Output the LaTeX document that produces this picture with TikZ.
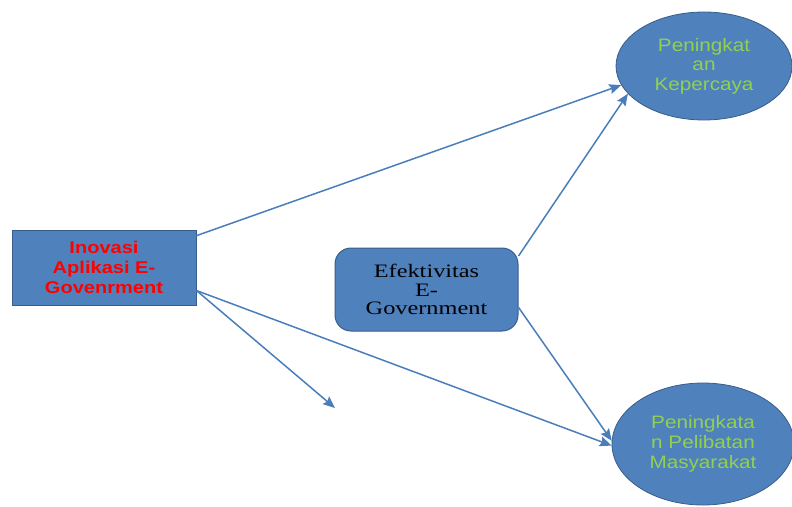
\documentclass[tikz,border=0pt]{standalone}
\usepackage{fontspec}
\setmainfont{Liberation Serif}
\newfontfamily\arialw[FakeStretch=1.15]{Liberation Sans}
\newfontfamily\arialb[FakeStretch=1.18]{Liberation Sans}
\newfontfamily\timesw[FakeStretch=1.28]{Liberation Serif}
\usetikzlibrary{shapes.geometric,arrows.meta}
\definecolor{fillblue}{HTML}{4F81BD}
\definecolor{edgeblue}{HTML}{385D8A}
\definecolor{linkblue}{HTML}{4A7EBB}
\definecolor{leafgreen}{HTML}{92D050}

\begin{document}
\begin{tikzpicture}[
x=1pt, y=-1pt,
box/.style={
	rectangle, draw=edgeblue, fill=fillblue, line width=1pt,
	minimum width=184pt, minimum height=75pt, inner sep=0pt,
	align=center, text=red, font=\arialb\bfseries\fontsize{17}{20}\selectfont
},
rbox/.style={
	rectangle, rounded corners=16pt, draw=edgeblue, fill=fillblue, line width=1pt,
	minimum width=183pt, minimum height=83pt, inner sep=0pt,
	align=center, text=black, font=\timesw\fontsize{19}{18.5}\selectfont
},
oval/.style={
	ellipse, draw=edgeblue, fill=fillblue, line width=0.8pt, inner sep=0pt,
	align=center, text=leafgreen
},
link/.style={linkblue, line width=1.5pt, -{Stealth[length=12pt,width=10pt,inset=2pt]}}
]
\useasboundingbox (0,0) rectangle (792,506);
\clip (0,0) rectangle (792,506);
\node[box] (inov) at (104,267.5) {Inovasi\\Aplikasi E-\\Govenrment};
\node[rbox] (efek) at (426.5,289.5) {Efektivitas\\E-\\Government};
\node[oval, minimum width=176pt, minimum height=108pt,
	font=\arialw\fontsize{18}{19.5}\selectfont] (kep) at (704,66) {Peningkat\\an\\Kepercaya};
\node[oval, minimum width=182pt, minimum height=122pt,
	font=\arialw\fontsize{18}{20}\selectfont] (pel) at (703,444) {Peningkata\\n Pelibatan\\Masyarakat};
\coordinate (loose) at (335,408);
\foreach \a/\b in {inov.19/kep.193, efek.20/kep.200, inov.-14/loose, inov.-14/pel.181, efek.-11/pel.178}
{
	\draw[link] (\a) -- (\b);
}
\end{tikzpicture}
\end{document}
